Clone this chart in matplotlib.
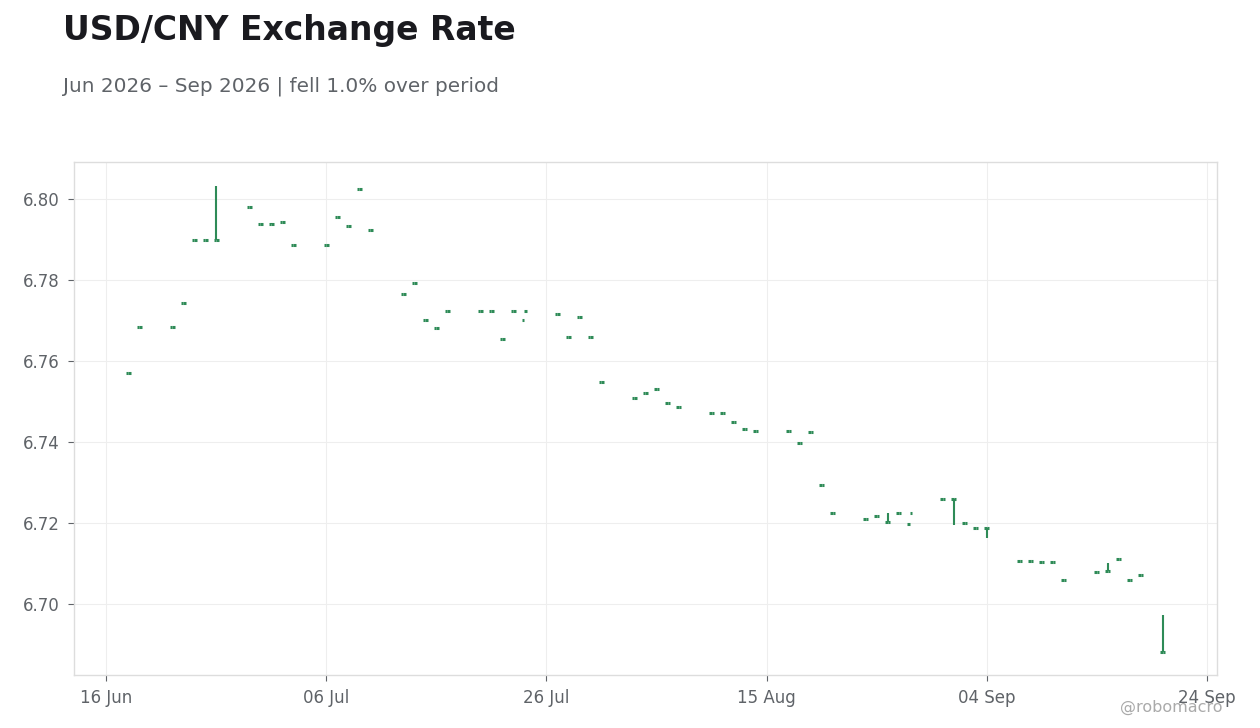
import pandas as pd
import matplotlib.pyplot as plt
import matplotlib.dates as mdates

# daily USD/CNY quotes
dates = pd.to_datetime([
    '2026-06-18', '2026-06-19', '2026-06-22', '2026-06-23', '2026-06-24', '2026-06-25', '2026-06-26',
    '2026-06-29', '2026-06-30', '2026-07-01', '2026-07-02', '2026-07-03',
    '2026-07-06', '2026-07-07', '2026-07-08', '2026-07-09', '2026-07-10',
    '2026-07-13', '2026-07-14', '2026-07-15', '2026-07-16', '2026-07-17',
    '2026-07-20', '2026-07-21', '2026-07-22', '2026-07-23', '2026-07-24',
    '2026-07-27', '2026-07-28', '2026-07-29', '2026-07-30', '2026-07-31',
    '2026-08-03', '2026-08-04', '2026-08-05', '2026-08-06', '2026-08-07',
    '2026-08-10', '2026-08-11', '2026-08-12', '2026-08-13', '2026-08-14',
    '2026-08-17', '2026-08-18', '2026-08-19', '2026-08-20', '2026-08-21',
    '2026-08-24', '2026-08-25', '2026-08-26', '2026-08-27', '2026-08-28',
    '2026-08-31', '2026-09-01', '2026-09-02', '2026-09-03', '2026-09-04',
    '2026-09-07', '2026-09-08', '2026-09-09', '2026-09-10', '2026-09-11',
    '2026-09-14', '2026-09-15', '2026-09-16', '2026-09-17', '2026-09-18',
    '2026-09-20',
])

opens = [
    6.7571, 6.7685, 6.7685, 6.7744, 6.7899, 6.7899, 6.7899,
    6.7979, 6.7937, 6.7937, 6.7942, 6.7885,
    6.7885, 6.7956, 6.7934, 6.8025, 6.7922,
    6.7766, 6.7793, 6.7700, 6.7682, 6.7724,
    6.7724, 6.7724, 6.7655, 6.7724, 6.7700,
    6.7717, 6.7658, 6.7709, 6.7660, 6.7549,
    6.7509, 6.7522, 6.7532, 6.7497, 6.7487,
    6.7472, 6.7472, 6.7450, 6.7433, 6.7428,
    6.7428, 6.7398, 6.7425, 6.7295, 6.7225,
    6.7211, 6.7218, 6.7203, 6.7225, 6.7198,
    6.7260, 6.7260, 6.7201, 6.7188, 6.7188,
    6.7107, 6.7107, 6.7105, 6.7105, 6.7060,
    6.7080, 6.7081, 6.7112, 6.7060, 6.7072,
    6.6881,
]

closes = [
    6.7571, 6.7685, 6.7685, 6.7744, 6.7899, 6.7899, 6.7899,
    6.7979, 6.7937, 6.7937, 6.7942, 6.7885,
    6.7885, 6.7956, 6.7934, 6.8025, 6.7922,
    6.7766, 6.7793, 6.7700, 6.7682, 6.7724,
    6.7724, 6.7724, 6.7655, 6.7724, 6.7724,
    6.7717, 6.7658, 6.7709, 6.7660, 6.7549,
    6.7509, 6.7522, 6.7532, 6.7497, 6.7487,
    6.7472, 6.7472, 6.7450, 6.7433, 6.7428,
    6.7428, 6.7398, 6.7425, 6.7295, 6.7225,
    6.7211, 6.7218, 6.7203, 6.7225, 6.7225,
    6.7260, 6.7260, 6.7201, 6.7188, 6.7188,
    6.7107, 6.7107, 6.7105, 6.7105, 6.7060,
    6.7080, 6.7081, 6.7112, 6.7060, 6.7072,
    6.6881,
]

highs = [
    6.7571, 6.7685, 6.7685, 6.7744, 6.7899, 6.7899, 6.8032,
    6.7979, 6.7937, 6.7941, 6.7942, 6.7885,
    6.7885, 6.7956, 6.7934, 6.8025, 6.7922,
    6.7766, 6.7793, 6.7700, 6.7682, 6.7724,
    6.7724, 6.7724, 6.7655, 6.7724, 6.7724,
    6.7717, 6.7658, 6.7709, 6.7660, 6.7549,
    6.7509, 6.7522, 6.7532, 6.7497, 6.7487,
    6.7472, 6.7472, 6.7450, 6.7433, 6.7428,
    6.7428, 6.7398, 6.7425, 6.7295, 6.7225,
    6.7211, 6.7218, 6.7225, 6.7225, 6.7225,
    6.7260, 6.7260, 6.7201, 6.7188, 6.7188,
    6.7107, 6.7107, 6.7105, 6.7105, 6.7060,
    6.7080, 6.7101, 6.7112, 6.7060, 6.7072,
    6.6973,
]

lows = [
    6.7571, 6.7685, 6.7685, 6.7744, 6.7899, 6.7899, 6.7899,
    6.7979, 6.7937, 6.7937, 6.7942, 6.7885,
    6.7885, 6.7956, 6.7934, 6.8025, 6.7922,
    6.7766, 6.7793, 6.7700, 6.7682, 6.7724,
    6.7724, 6.7724, 6.7655, 6.7724, 6.7700,
    6.7717, 6.7658, 6.7709, 6.7660, 6.7549,
    6.7509, 6.7522, 6.7532, 6.7497, 6.7487,
    6.7472, 6.7472, 6.7450, 6.7433, 6.7428,
    6.7428, 6.7398, 6.7425, 6.7295, 6.7225,
    6.7211, 6.7218, 6.7203, 6.7225, 6.7198,
    6.7260, 6.7196, 6.7201, 6.7188, 6.7164,
    6.7107, 6.7107, 6.7105, 6.7105, 6.7060,
    6.7080, 6.7081, 6.7112, 6.7060, 6.7072,
    6.6881,
]

tick_dates = pd.date_range('2026-06-16', periods=6, freq='20D')

green = '#2e8b57'
grey_txt = '#5f6368'

fig = plt.figure(figsize=(12.6, 7.28), dpi=100)
ax = fig.add_axes([0.0587, 0.0728, 0.9072, 0.7047])

x = mdates.date2num(dates)
half = 0.22

# wicks only where the range goes past the open/close ticks
for xi, o, h, l, c in zip(x, opens, highs, lows, closes):
    top = max(o, c)
    bot = min(o, c)
    if h > top:
        ax.vlines(xi, top, h, color=green, lw=1.5, zorder=3)
    if l < bot:
        ax.vlines(xi, l, bot, color=green, lw=1.5, zorder=3)
    ax.hlines(o, xi - half, xi, color=green, lw=2.2, zorder=3)
    ax.hlines(c, xi, xi + half, color=green, lw=2.2, zorder=3)

ax.set_xlim(mdates.date2num(pd.Timestamp('2026-06-13 02:00')),
            mdates.date2num(pd.Timestamp('2026-09-24 22:00')))
ax.set_ylim(6.6825, 6.8091)

ax.set_xticks(mdates.date2num(tick_dates))
ax.xaxis.set_major_formatter(mdates.DateFormatter('%d %b'))
ax.set_yticks([6.70, 6.72, 6.74, 6.76, 6.78, 6.80])
ax.yaxis.set_major_formatter(plt.FormatStrFormatter('%.2f'))

ax.grid(True, color='#eeeeee', lw=0.8, zorder=0)
ax.set_axisbelow(True)
for s in ax.spines.values():
    s.set_color('#dddddd')
    s.set_linewidth(1)
ax.tick_params(axis='both', labelsize=12, colors=grey_txt, length=4, width=0.8, pad=6)

fig.text(0.05, 0.945, 'USD/CNY Exchange Rate', fontsize=23.8, fontweight='bold',
         color='#1a1a1f', va='baseline', ha='left')
fig.text(0.05, 0.875, 'Jun 2026 \u2013 Sep 2026 | fell 1.0% over period', fontsize=14.4,
         color=grey_txt, va='baseline', ha='left')
fig.text(0.97, 0.022, '@robomacro', fontsize=11.5, color='#aaaaaa', ha='right', va='baseline')

fig.savefig('out.png', dpi=100)
